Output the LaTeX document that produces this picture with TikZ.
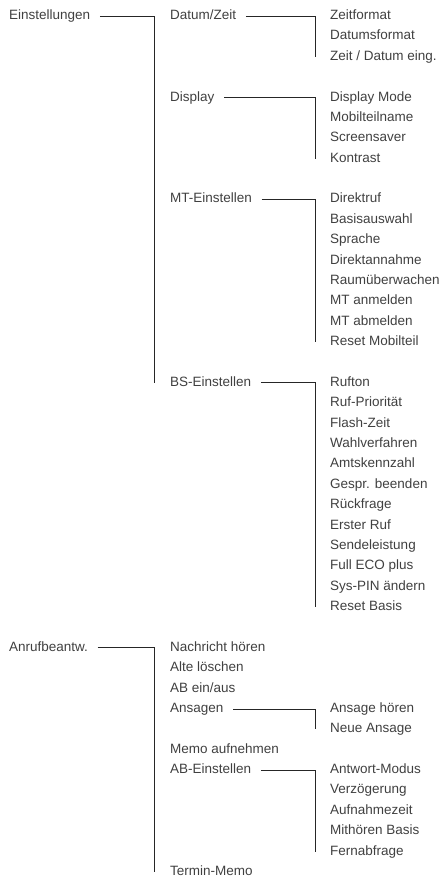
\documentclass[tikz,border=0pt]{standalone}
\usepackage{fontspec}
\setmainfont{Liberation Sans}
\usepackage{xcolor}
\usepackage{tikz}

\newcommand{\zeile}[1]{19.5+20.38*(#1)}

\begin{document}
\begin{tikzpicture}[x=1pt, y=-1pt,
        eintrag/.style={anchor=base west, inner xsep=0pt, inner ysep=0pt,
            text height=7pt, text depth=0pt, text=black!75,
            font=\fontsize{13.5}{16}\selectfont},
        ast/.style={draw=black!85, line width=0.8pt}]
    \useasboundingbox (0,0) rectangle (444,877);

    % Ebene 1
    \node[eintrag] (einst) at (9,{\zeile{0}}) {Einstellungen};
    \node[eintrag] (anruf) at (9,{\zeile{31}}) {Anrufbeantw.};

    % Ebene 2
    \node[eintrag] (dz) at (170,{\zeile{0}}) {Datum/Zeit};
    \node[eintrag] (disp) at (170,{\zeile{4}}) {Display};
    \node[eintrag] (mt) at (170,{\zeile{9}}) {MT-Einstellen};
    \node[eintrag] (bs) at (170,{\zeile{18}}) {BS-Einstellen};
    \node[eintrag] (nh) at (170,{\zeile{31}}) {Nachricht hören};
    \node[eintrag] (al) at (170,{\zeile{32}}) {Alte löschen};
    \node[eintrag] (ab) at (170,{\zeile{33}}) {AB ein/aus};
    \node[eintrag] (ans) at (170,{\zeile{34}}) {Ansagen};
    \node[eintrag] (memo) at (170,{\zeile{36}}) {Memo aufnehmen};
    \node[eintrag] (abe) at (170,{\zeile{37}}) {AB-Einstellen};
    \node[eintrag] (tm) at (170,{\zeile{42}}) {Termin-Memo};

    % Ebene 3
    \foreach \t [count=\i from 0] in {Zeitformat, Datumsformat, {Zeit / Datum eing.}}
        \node[eintrag] (dz\i) at (330,{\zeile{\i}}) {\t};
    \foreach \t [count=\i from 0] in {Display Mode, Mobilteilname, Screensaver, Kontrast}
        \node[eintrag] (disp\i) at (330,{\zeile{\i+4}}) {\t};
    \foreach \t [count=\i from 0] in {Direktruf, Basisauswahl, Sprache, Direktannahme,
            Raumüberwachen, MT anmelden, MT abmelden, Reset Mobilteil}
        \node[eintrag] (mt\i) at (330,{\zeile{\i+9}}) {\t};
    \foreach \t [count=\i from 0] in {Rufton, Ruf-Priorität, Flash-Zeit, Wahlverfahren,
            Amtskennzahl, Gespr. beenden, Rückfrage, Erster Ruf, Sendeleistung,
            Full ECO plus, Sys-PIN ändern, Reset Basis}
        \node[eintrag] (bs\i) at (330,{\zeile{\i+18}}) {\t};
    \foreach \t [count=\i from 0] in {Ansage hören, Neue Ansage}
        \node[eintrag] (ans\i) at (330,{\zeile{\i+34}}) {\t};
    \foreach \t [count=\i from 0] in {Antwort-Modus, Verzögerung, Aufnahmezeit,
            Mithören Basis, Fernabfrage}
        \node[eintrag] (abe\i) at (330,{\zeile{\i+37}}) {\t};

    % Verbindungen
    \draw[ast] ([xshift=9.5pt]einst.east) -| ([xshift=-16pt]bs.west);
    \draw[ast] ([xshift=9.5pt]anruf.east) -| ([xshift=-16pt]tm.west);
    \draw[ast] ([xshift=9.5pt]dz.east) -| ([xshift=-15pt]dz2.west);
    \draw[ast] ([xshift=9.5pt]disp.east) -| ([xshift=-15pt]disp3.west);
    \draw[ast] ([xshift=9.5pt]mt.east) -| ([xshift=-15pt]mt7.west);
    \draw[ast] ([xshift=9.5pt]bs.east) -| ([xshift=-15pt]bs11.west);
    \draw[ast] ([xshift=9.5pt]ans.east) -| ([xshift=-15pt]ans1.west);
    \draw[ast] ([xshift=9.5pt]abe.east) -| ([xshift=-15pt]abe4.west);
\end{tikzpicture}
\end{document}
